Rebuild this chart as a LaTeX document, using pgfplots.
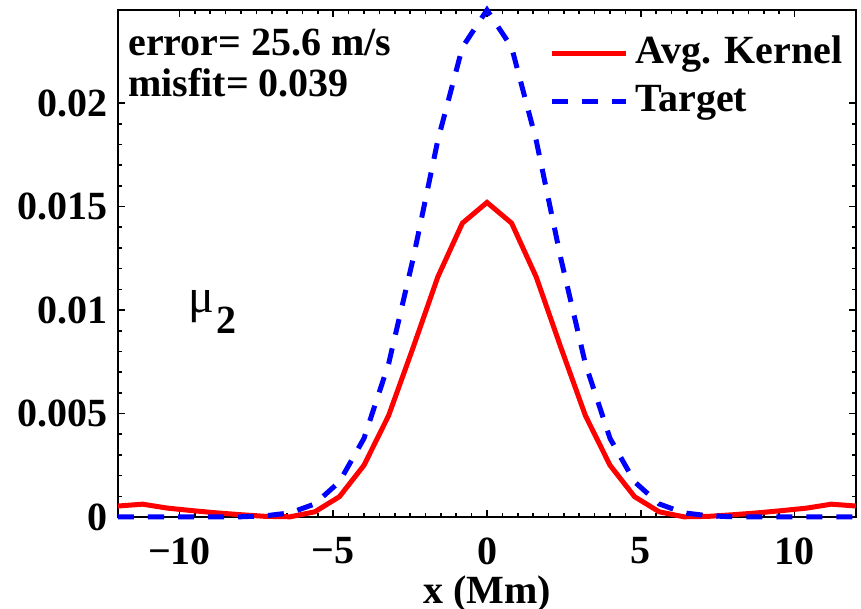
\documentclass[border=0pt]{standalone}
\usepackage{pgfplots}
\pgfplotsset{compat=1.18}
\usepackage{fontspec}
\setmainfont{Liberation Serif}
\newcommand{\bigf}{\fontsize{20}{24}\selectfont\bfseries}

\pgfplotstableread{
x y
-12.0 0.00053
-11.2 0.00062
-10.4 0.00043
-9.6 0.00031
-8.8 0.00020
-8.0 0.00011
-7.2 0.00003
-6.4 0.00001
-5.6 0.00025
-4.8 0.00098
-4.0 0.00250
-3.2 0.00490
-2.4 0.00820
-1.6 0.01160
-0.8 0.01420
0.0 0.01520
0.8 0.01420
1.6 0.01160
2.4 0.00820
3.2 0.00490
4.0 0.00250
4.8 0.00098
5.6 0.00025
6.4 0.00001
7.2 0.00003
8.0 0.00011
8.8 0.00020
9.6 0.00031
10.4 0.00043
11.2 0.00062
12.0 0.00053
}\kernel

\pgfplotstableread{
x y
-12.0 0.0
-11.2 0.0
-10.4 0.0
-9.6 0.0
-8.8 0.0
-8.0 0.00001
-7.2 0.00006
-6.4 0.00020
-5.6 0.00063
-4.8 0.00170
-4.0 0.00380
-3.2 0.00740
-2.4 0.01250
-1.6 0.01820
-0.8 0.02270
0.0 0.02450
0.8 0.02270
1.6 0.01820
2.4 0.01250
3.2 0.00740
4.0 0.00380
4.8 0.00170
5.6 0.00063
6.4 0.00020
7.2 0.00006
8.0 0.00001
8.8 0.0
9.6 0.0
10.4 0.0
11.2 0.0
12.0 0.0
}\target

\begin{document}
\begin{tikzpicture}
\useasboundingbox (-59pt,-46pt) rectangle (371.5pt,258.5pt);
\begin{axis}[
  scale only axis, width=369pt, height=253.5pt,
  xmin=-12, xmax=12, ymin=0, ymax=0.0245,
  xtick={-10,-5,0,5,10}, xticklabels={−10,−5,0,5,10},
  ytick={0,0.005,0.01,0.015,0.02}, yticklabels={0,0.005,0.01,0.015,0.02},
  scaled y ticks=false,
  minor x tick num=9, minor y tick num=4,
  tick align=inside, major tick length=3.5pt, minor tick length=2pt,
  axis line style={line width=1pt},
  every tick/.style={black, line width=0.8pt},
  ticklabel style={font=\bigf, inner sep=0pt},
  xticklabel style={anchor=north, yshift=-10pt},
  yticklabel style={anchor=east, xshift=-5pt},
  xlabel={x (Mm)},
  xlabel style={font=\bigf, at={(axis description cs:0.5,0)}, anchor=base, yshift=-43pt, inner sep=0pt},
  clip=false,
  legend style={draw=none, fill=none, font=\bigf, at={(rel axis cs:0.584,0.951)}, anchor=north west, inner sep=0pt, row sep=6pt,
     nodes={inner sep=0pt, text height=14pt, text depth=4pt}},
  legend cell align=left,
  legend image code/.code={\draw[#1] (0pt,0pt) -- (37pt,0pt); \path (40.5pt,0pt);},
]
\addplot[red, line width=2.5pt] table {\kernel};
\addlegendentry{Avg. Kernel}
\addplot[blue, line width=2.5pt, dash pattern=on 8pt off 7pt] table {\target};
\addlegendentry{Target}
\node[anchor=base west, inner sep=0pt, font=\bigf] at (rel axis cs:0.0136,0.9112) {error= 25.6 m/s};
\node[anchor=base west, inner sep=0pt, font=\bigf] at (rel axis cs:0.0136,0.8284) {misfit= 0.039};
\node[anchor=base west, inner sep=0pt] at (rel axis cs:0.0949,0.4043) {\fontsize{24}{28}\selectfont μ\kern1pt\raisebox{-10.5pt}{\bfseries\fontsize{20}{24}\selectfont 2}};
\end{axis}
\end{tikzpicture}
\end{document}
